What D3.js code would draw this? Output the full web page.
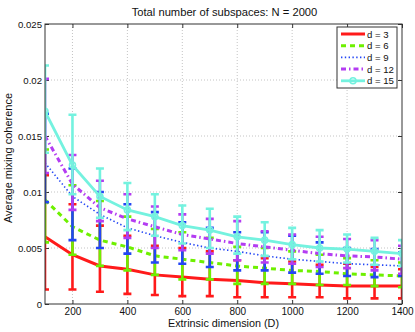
<!DOCTYPE html>
<html>
<head>
<meta charset="utf-8">
<script src="https://cdn.jsdelivr.net/npm/d3@7"></script>
<style>
  body { margin: 0; background: #fff; }
  svg { display: block; font-family: "Liberation Sans", Arial, sans-serif; }
</style>
</head>
<body>
<svg id="chart" width="415" height="332"></svg>
<script>
// ── Data ──────────────────────────────────────────────────────────────────
const dims = [100, 200, 300, 400, 500, 600, 700, 800, 900, 1000, 1100, 1200, 1300, 1400];
const xTicks = [200, 400, 600, 800, 1000, 1200, 1400];
const yTicks = [0, 0.005, 0.01, 0.015, 0.02, 0.025];
const labels = ["d = 3", "d = 6", "d = 9", "d = 12", "d = 15"];

const mean3 = [0.0060, 0.0044, 0.0034, 0.0031, 0.0026, 0.0024, 0.0022, 0.0021, 0.0019, 0.0018, 0.0017, 0.0016, 0.0016, 0.0016];
const lo3   = [0.0013, 0.0013, 0.0011, 0.0009, 0.0008, 0.0007, 0.0007, 0.0006, 0.0006, 0.0006, 0.0006, 0.0005, 0.0005, 0.0005];
const hi3   = [0.0115, 0.0089, 0.0070, 0.0061, 0.0052, 0.0050, 0.0047, 0.0039, 0.0041, 0.0038, 0.0035, 0.0036, 0.0033, 0.0031];

const mean6 = [0.0093, 0.0069, 0.0057, 0.0051, 0.0043, 0.0040, 0.0037, 0.0034, 0.0032, 0.0030, 0.0029, 0.0027, 0.0026, 0.0025];
const lo6   = [0.0055, 0.0044, 0.0034, 0.0030, 0.0026, 0.0022, 0.0022, 0.0018, 0.0018, 0.0018, 0.0017, 0.0017, 0.0016, 0.0015];
const hi6   = [0.0138, 0.0106, 0.0092, 0.0078, 0.0067, 0.0064, 0.0059, 0.0051, 0.0050, 0.0047, 0.0044, 0.0041, 0.0039, 0.0037];

const mean9 = [0.0126, 0.0096, 0.0080, 0.0068, 0.0061, 0.0055, 0.0050, 0.0047, 0.0043, 0.0040, 0.0038, 0.0036, 0.0035, 0.0034];
const lo9   = [0.0091, 0.0057, 0.0050, 0.0045, 0.0037, 0.0036, 0.0033, 0.0030, 0.0030, 0.0028, 0.0027, 0.0025, 0.0024, 0.0025];
const hi9   = [0.0170, 0.0121, 0.0100, 0.0089, 0.0082, 0.0073, 0.0068, 0.0064, 0.0064, 0.0061, 0.0055, 0.0050, 0.0049, 0.0046];

const mean12 = [0.0150, 0.0107, 0.0086, 0.0076, 0.0069, 0.0062, 0.0058, 0.0054, 0.0051, 0.0048, 0.0045, 0.0043, 0.0042, 0.0040];
const lo12   = [0.0117, 0.0084, 0.0074, 0.0059, 0.0050, 0.0048, 0.0045, 0.0039, 0.0037, 0.0036, 0.0033, 0.0032, 0.0030, 0.0027];
const hi12   = [0.0201, 0.0133, 0.0110, 0.0098, 0.0087, 0.0080, 0.0076, 0.0074, 0.0065, 0.0062, 0.0060, 0.0058, 0.0057, 0.0052];

const mean15 = [0.0172, 0.0124, 0.0096, 0.0084, 0.0078, 0.0070, 0.0066, 0.0060, 0.0057, 0.0053, 0.0050, 0.0049, 0.0047, 0.0045];
const lo15   = [0.0135, 0.0098, 0.0077, 0.0066, 0.0061, 0.0054, 0.0050, 0.0045, 0.0043, 0.0040, 0.0038, 0.0037, 0.0035, 0.0034];
const hi15   = [0.0213, 0.0169, 0.0121, 0.0108, 0.0098, 0.0088, 0.0085, 0.0078, 0.0073, 0.0068, 0.0066, 0.0062, 0.0059, 0.0057];

// ── Styles per series ─────────────────────────────────────────────────────
const series = [
  { label: labels[0], mean: mean3,  lo: lo3,  hi: hi3,  color: "#ff1a1a", width: 3,   dash: null,        marker: false },
  { label: labels[1], mean: mean6,  lo: lo6,  hi: hi6,  color: "#6ef000", width: 3,   dash: "5,4",       marker: false },
  { label: labels[2], mean: mean9,  lo: lo9,  hi: hi9,  color: "#2346f5", width: 1.6, dash: "1.4,2.4",   marker: false },
  { label: labels[3], mean: mean12, lo: lo12, hi: hi12, color: "#b43cf2", width: 3,   dash: "5,3,1.5,3", marker: false },
  { label: labels[4], mean: mean15, lo: lo15, hi: hi15, color: "#74f2df", width: 2.8, dash: null,        marker: true },
];

// ── Layout ────────────────────────────────────────────────────────────────
const pLeft = 45, pRight = 402, pTop = 24, pBottom = 304;
const svg = d3.select("#chart");

const x = d3.scaleLinear().domain([100, 1400]).range([pLeft, pRight]);
const y = d3.scaleLinear().domain([0, 0.025]).range([pBottom, pTop]);

svg.append("defs").append("clipPath").attr("id", "plot-clip")
  .append("rect").attr("x", pLeft).attr("y", pTop)
  .attr("width", pRight - pLeft).attr("height", pBottom - pTop);

// ── Grid ──────────────────────────────────────────────────────────────────
const grid = svg.append("g").attr("stroke", "#b5b5b5").attr("stroke-width", 0.8)
  .attr("stroke-dasharray", "1,2");
grid.selectAll(".gx").data(xTicks.filter((d) => d < 1400)).join("line")
  .attr("x1", (d) => x(d)).attr("x2", (d) => x(d))
  .attr("y1", pTop).attr("y2", pBottom);
grid.selectAll(".gy").data(yTicks.filter((d) => d > 0 && d < 0.025)).join("line")
  .attr("x1", pLeft).attr("x2", pRight)
  .attr("y1", (d) => y(d)).attr("y2", (d) => y(d));

// ── Axes ──────────────────────────────────────────────────────────────────
const fmtY = (d) => String(+d.toFixed(3));

const xAxis = svg.append("g").attr("transform", `translate(0,${pBottom})`)
  .call(d3.axisBottom(x).tickValues(xTicks).tickSize(-4).tickPadding(3.5).tickFormat(d3.format("d")));
const xAxisTop = svg.append("g").attr("transform", `translate(0,${pTop})`)
  .call(d3.axisTop(x).tickValues(xTicks).tickSize(-4).tickFormat(""));
const yAxis = svg.append("g").attr("transform", `translate(${pLeft},0)`)
  .call(d3.axisLeft(y).tickValues(yTicks).tickSize(-4).tickPadding(3).tickFormat(fmtY));
const yAxisRight = svg.append("g").attr("transform", `translate(${pRight},0)`)
  .call(d3.axisRight(y).tickValues(yTicks).tickSize(-4).tickFormat(""));

[xAxis, xAxisTop, yAxis, yAxisRight].forEach((g) => {
  g.select(".domain").remove();
  g.selectAll(".tick line").attr("stroke", "#333");
  g.selectAll(".tick text").attr("fill", "#111").attr("font-size", 10)
    .attr("font-family", "Liberation Sans, Arial, sans-serif");
});
yAxis.selectAll(".tick text").attr("font-size", 9.6);

// ── Series: error bars + lines ────────────────────────────────────────────
const plot = svg.append("g").attr("clip-path", "url(#plot-clip)");
const cap = 4;

series.forEach((s) => {
  const g = plot.append("g");
  const pts = dims.map((d, i) => ({ x: d, m: s.mean[i], lo: s.lo[i], hi: s.hi[i] }));

  g.selectAll(".bar").data(pts).join("path")
    .attr("fill", "none").attr("stroke", s.color).attr("stroke-width", 2.6)
    .attr("d", (p) =>
      `M${x(p.x)},${y(p.lo)}V${y(p.hi)}` +
      `M${x(p.x) - cap},${y(p.hi)}H${x(p.x) + cap}` +
      `M${x(p.x) - cap},${y(p.lo)}H${x(p.x) + cap}`);

  g.append("path").datum(pts)
    .attr("fill", "none").attr("stroke", s.color).attr("stroke-width", s.width)
    .attr("stroke-dasharray", s.dash)
    .attr("d", d3.line().x((p) => x(p.x)).y((p) => y(p.m)));

  if (s.marker) {
    g.selectAll(".mk").data(pts).join("circle")
      .attr("cx", (p) => x(p.x)).attr("cy", (p) => y(p.m)).attr("r", 3)
      .attr("fill", "none").attr("stroke", s.color).attr("stroke-width", 1.6);
  }
});

// ── Box ───────────────────────────────────────────────────────────────────
svg.append("rect").attr("x", pLeft).attr("y", pTop)
  .attr("width", pRight - pLeft).attr("height", pBottom - pTop)
  .attr("fill", "none").attr("stroke", "#333").attr("stroke-width", 1);

// ── Text ──────────────────────────────────────────────────────────────────
svg.append("text").attr("x", (pLeft + pRight) / 2 + 1).attr("y", 16)
  .attr("text-anchor", "middle").attr("font-size", 11.2).attr("fill", "#111")
  .text("Total number of subspaces: N = 2000");

svg.append("text").attr("x", (pLeft + pRight) / 2).attr("y", 327)
  .attr("text-anchor", "middle").attr("font-size", 10.8).attr("fill", "#111")
  .text("Extrinsic dimension (D)");

svg.append("text").attr("transform", `translate(11.5,158) rotate(-90)`)
  .attr("text-anchor", "middle").attr("font-size", 11).attr("fill", "#111")
  .text("Average mixing coherence");

// ── Legend ────────────────────────────────────────────────────────────────
const legend = svg.append("g");
legend.append("rect").attr("x", 337).attr("y", 27).attr("width", 60).attr("height", 61)
  .attr("fill", "#fff").attr("stroke", "#333").attr("stroke-width", 1);

series.forEach((s, i) => {
  const ly = 34 + i * 11.7;
  legend.append("line").attr("x1", 341).attr("x2", 365).attr("y1", ly).attr("y2", ly)
    .attr("stroke", s.color).attr("stroke-width", s.width).attr("stroke-dasharray", s.dash);
  if (s.marker) {
    legend.append("circle").attr("cx", 353).attr("cy", ly).attr("r", 3)
      .attr("fill", "none").attr("stroke", s.color).attr("stroke-width", 1.6);
  }
  legend.append("text").attr("x", 367).attr("y", ly + 3.5)
    .attr("font-size", 9.6).attr("fill", "#111").text(s.label);
});
</script>
</body>
</html>
